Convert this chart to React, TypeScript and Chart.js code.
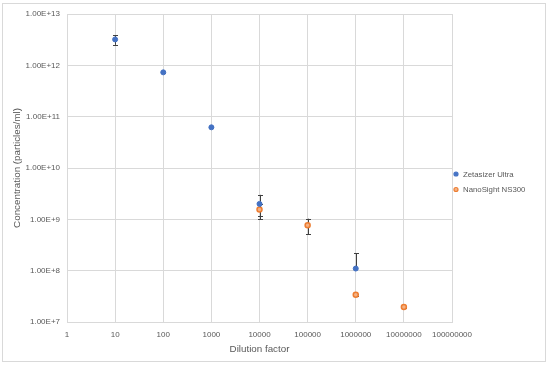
import React, { useEffect, useRef } from "react";
import { Chart, registerables } from "chart.js";

Chart.register(...registerables);

// ---- Data ----
const zetaLabel = "Zetasizer Ultra";
const zetaX = [10, 100, 1000, 10000, 1000000];
const zetaY = [3.2e12, 7.3e11, 6.2e10, 2.0e9, 1.1e8];
const zetaErr = [7e11, 3e10, 3e9, 1.0e9, 1.1e8];

const nanoLabel = "NanoSight NS300";
const nanoX = [10000, 100000, 1000000, 10000000];
const nanoY = [1.55e9, 7.7e8, 3.4e7, 1.95e7];
const nanoErr = [4e8, 2.6e8, 1.5e6, 8e5];

const xTicks = [1, 10, 100, 1000, 10000, 100000, 1000000, 10000000, 100000000];
const yTicks = [1e7, 1e8, 1e9, 1e10, 1e11, 1e12, 1e13];

const xTitle = "Dilution factor";
const yTitle = "Concentration (particles/ml)";

const TEXT = "#595959";
const GRID = "#D9D9D9";
const FONT = "'Liberation Sans', Arial, sans-serif";

const errorBarPlugin = {
  id: "errorBars",
  beforeDatasetsDraw(chart: any) {
    const ctx = chart.ctx;
    const yScale = chart.scales.y;
    ctx.save();
    ctx.beginPath();
    ctx.rect(chart.chartArea.left, chart.chartArea.top, chart.chartArea.right - chart.chartArea.left, chart.chartArea.bottom - chart.chartArea.top);
    ctx.clip();
    ctx.strokeStyle = "#404040";
    ctx.lineWidth = 1;
    chart.data.datasets.forEach((ds: any, di: number) => {
      const meta = chart.getDatasetMeta(di);
      meta.data.forEach((pt: any, i: number) => {
        const v = ds.data[i].y;
        const e = ds.errors[i];
        const x = Math.round(pt.x) + 0.5;
        const yc = yScale.getPixelForValue(v);
        const yt = yScale.getPixelForValue(v + e);
        const lo = v - e;
        const yb = lo > 0 ? yScale.getPixelForValue(lo) : yc;
        const cap = 2.5;
        ctx.beginPath();
        ctx.moveTo(x, yt);
        ctx.lineTo(x, yb);
        ctx.moveTo(x - cap, Math.round(yt) + 0.5);
        ctx.lineTo(x + cap, Math.round(yt) + 0.5);
        if (lo > 0) {
          ctx.moveTo(x - cap, Math.round(yb) + 0.5);
          ctx.lineTo(x + cap, Math.round(yb) + 0.5);
        }
        ctx.stroke();
      });
    });
    ctx.restore();
  },
};

const frameLegendPlugin = {
  id: "frameLegend",
  beforeDraw(chart: any) {
    const ctx = chart.ctx;
    ctx.save();
    ctx.fillStyle = "#FFFFFF";
    ctx.fillRect(0, 0, chart.width, chart.height);
    ctx.strokeStyle = GRID;
    ctx.lineWidth = 1;
    ctx.strokeRect(2.5, 3.5, 543, 358);
    ctx.restore();
  },
  afterDraw(chart: any) {
    const ctx = chart.ctx;
    ctx.save();
    ctx.font = `7.8px ${FONT}`;
    ctx.textBaseline = "middle";
    ctx.textAlign = "left";
    chart.data.datasets.forEach((ds: any, i: number) => {
      const y = 174 + i * 15.5;
      ctx.beginPath();
      ctx.arc(456, y, 2, 0, Math.PI * 2);
      ctx.fillStyle = ds.backgroundColor;
      ctx.fill();
      ctx.lineWidth = 1.2;
      ctx.strokeStyle = ds.borderColor;
      ctx.stroke();
      ctx.fillStyle = TEXT;
      ctx.fillText(ds.label, 463, y + 0.5);
    });
    ctx.restore();
  },
};

export default function App() {
  const ref = useRef<HTMLCanvasElement | null>(null);

  useEffect(() => {
    if (!ref.current) return;
    const chart = new Chart(ref.current, {
      type: "scatter",
      data: {
        datasets: [
          {
            label: zetaLabel,
            data: zetaX.map((x, i) => ({ x, y: zetaY[i] })),
            errors: zetaErr,
            backgroundColor: "#4472C4",
            borderColor: "#4472C4",
            borderWidth: 1,
            pointRadius: 2.5,
          } as any,
          {
            label: nanoLabel,
            data: nanoX.map((x, i) => ({ x, y: nanoY[i] })),
            errors: nanoErr,
            backgroundColor: "#F4B183",
            borderColor: "#ED7D31",
            borderWidth: 1.5,
            pointRadius: 2.5,
          } as any,
        ],
      },
      options: {
        responsive: false,
        animation: false,
        devicePixelRatio: 1,
        layout: { padding: { left: 0, top: 14, right: 98, bottom: 0 } },
        plugins: {
          legend: { display: false },
          tooltip: { enabled: false },
        },
        scales: {
          x: {
            type: "logarithmic",
            min: 1,
            max: 1e8,
            afterBuildTicks: (s: any) => {
              s.ticks = xTicks.map((v) => ({ value: v }));
            },
            afterFit: (s: any) => {
              s.height = 45;
            },
            grid: { color: GRID, drawTicks: false },
            border: { color: GRID },
            ticks: {
              font: { family: FONT, size: 8 },
              color: TEXT,
              padding: 8,
              maxRotation: 0,
              autoSkip: false,
              callback: (v: any) => String(v),
            },
            title: {
              display: true,
              text: xTitle,
              font: { family: FONT, size: 9.8 },
              color: TEXT,
              padding: { top: 0, bottom: 12 },
            },
          },
          y: {
            type: "logarithmic",
            min: 1e7,
            max: 1e13,
            afterBuildTicks: (s: any) => {
              s.ticks = yTicks.map((v) => ({ value: v }));
            },
            afterFit: (s: any) => {
              s.width = 67;
            },
            grid: { color: GRID, drawTicks: false },
            border: { color: GRID },
            ticks: {
              font: { family: FONT, size: 8 },
              color: TEXT,
              padding: 7,
              autoSkip: false,
              callback: (v: any) => Number(v).toExponential(2).toUpperCase(),
            },
            title: {
              display: true,
              text: yTitle,
              font: { family: FONT, size: 9.8 },
              color: TEXT,
              padding: { top: 11, bottom: 0 },
            },
          },
        },
      } as any,
      plugins: [errorBarPlugin, frameLegendPlugin],
    });
    return () => chart.destroy();
  }, []);

  return (
    <div style={{ position: "fixed", left: 0, top: 0, width: 550, height: 367, background: "#fff" }}>
      <canvas ref={ref} width={550} height={367} style={{ width: 550, height: 367, display: "block" }} />
    </div>
  );
}
